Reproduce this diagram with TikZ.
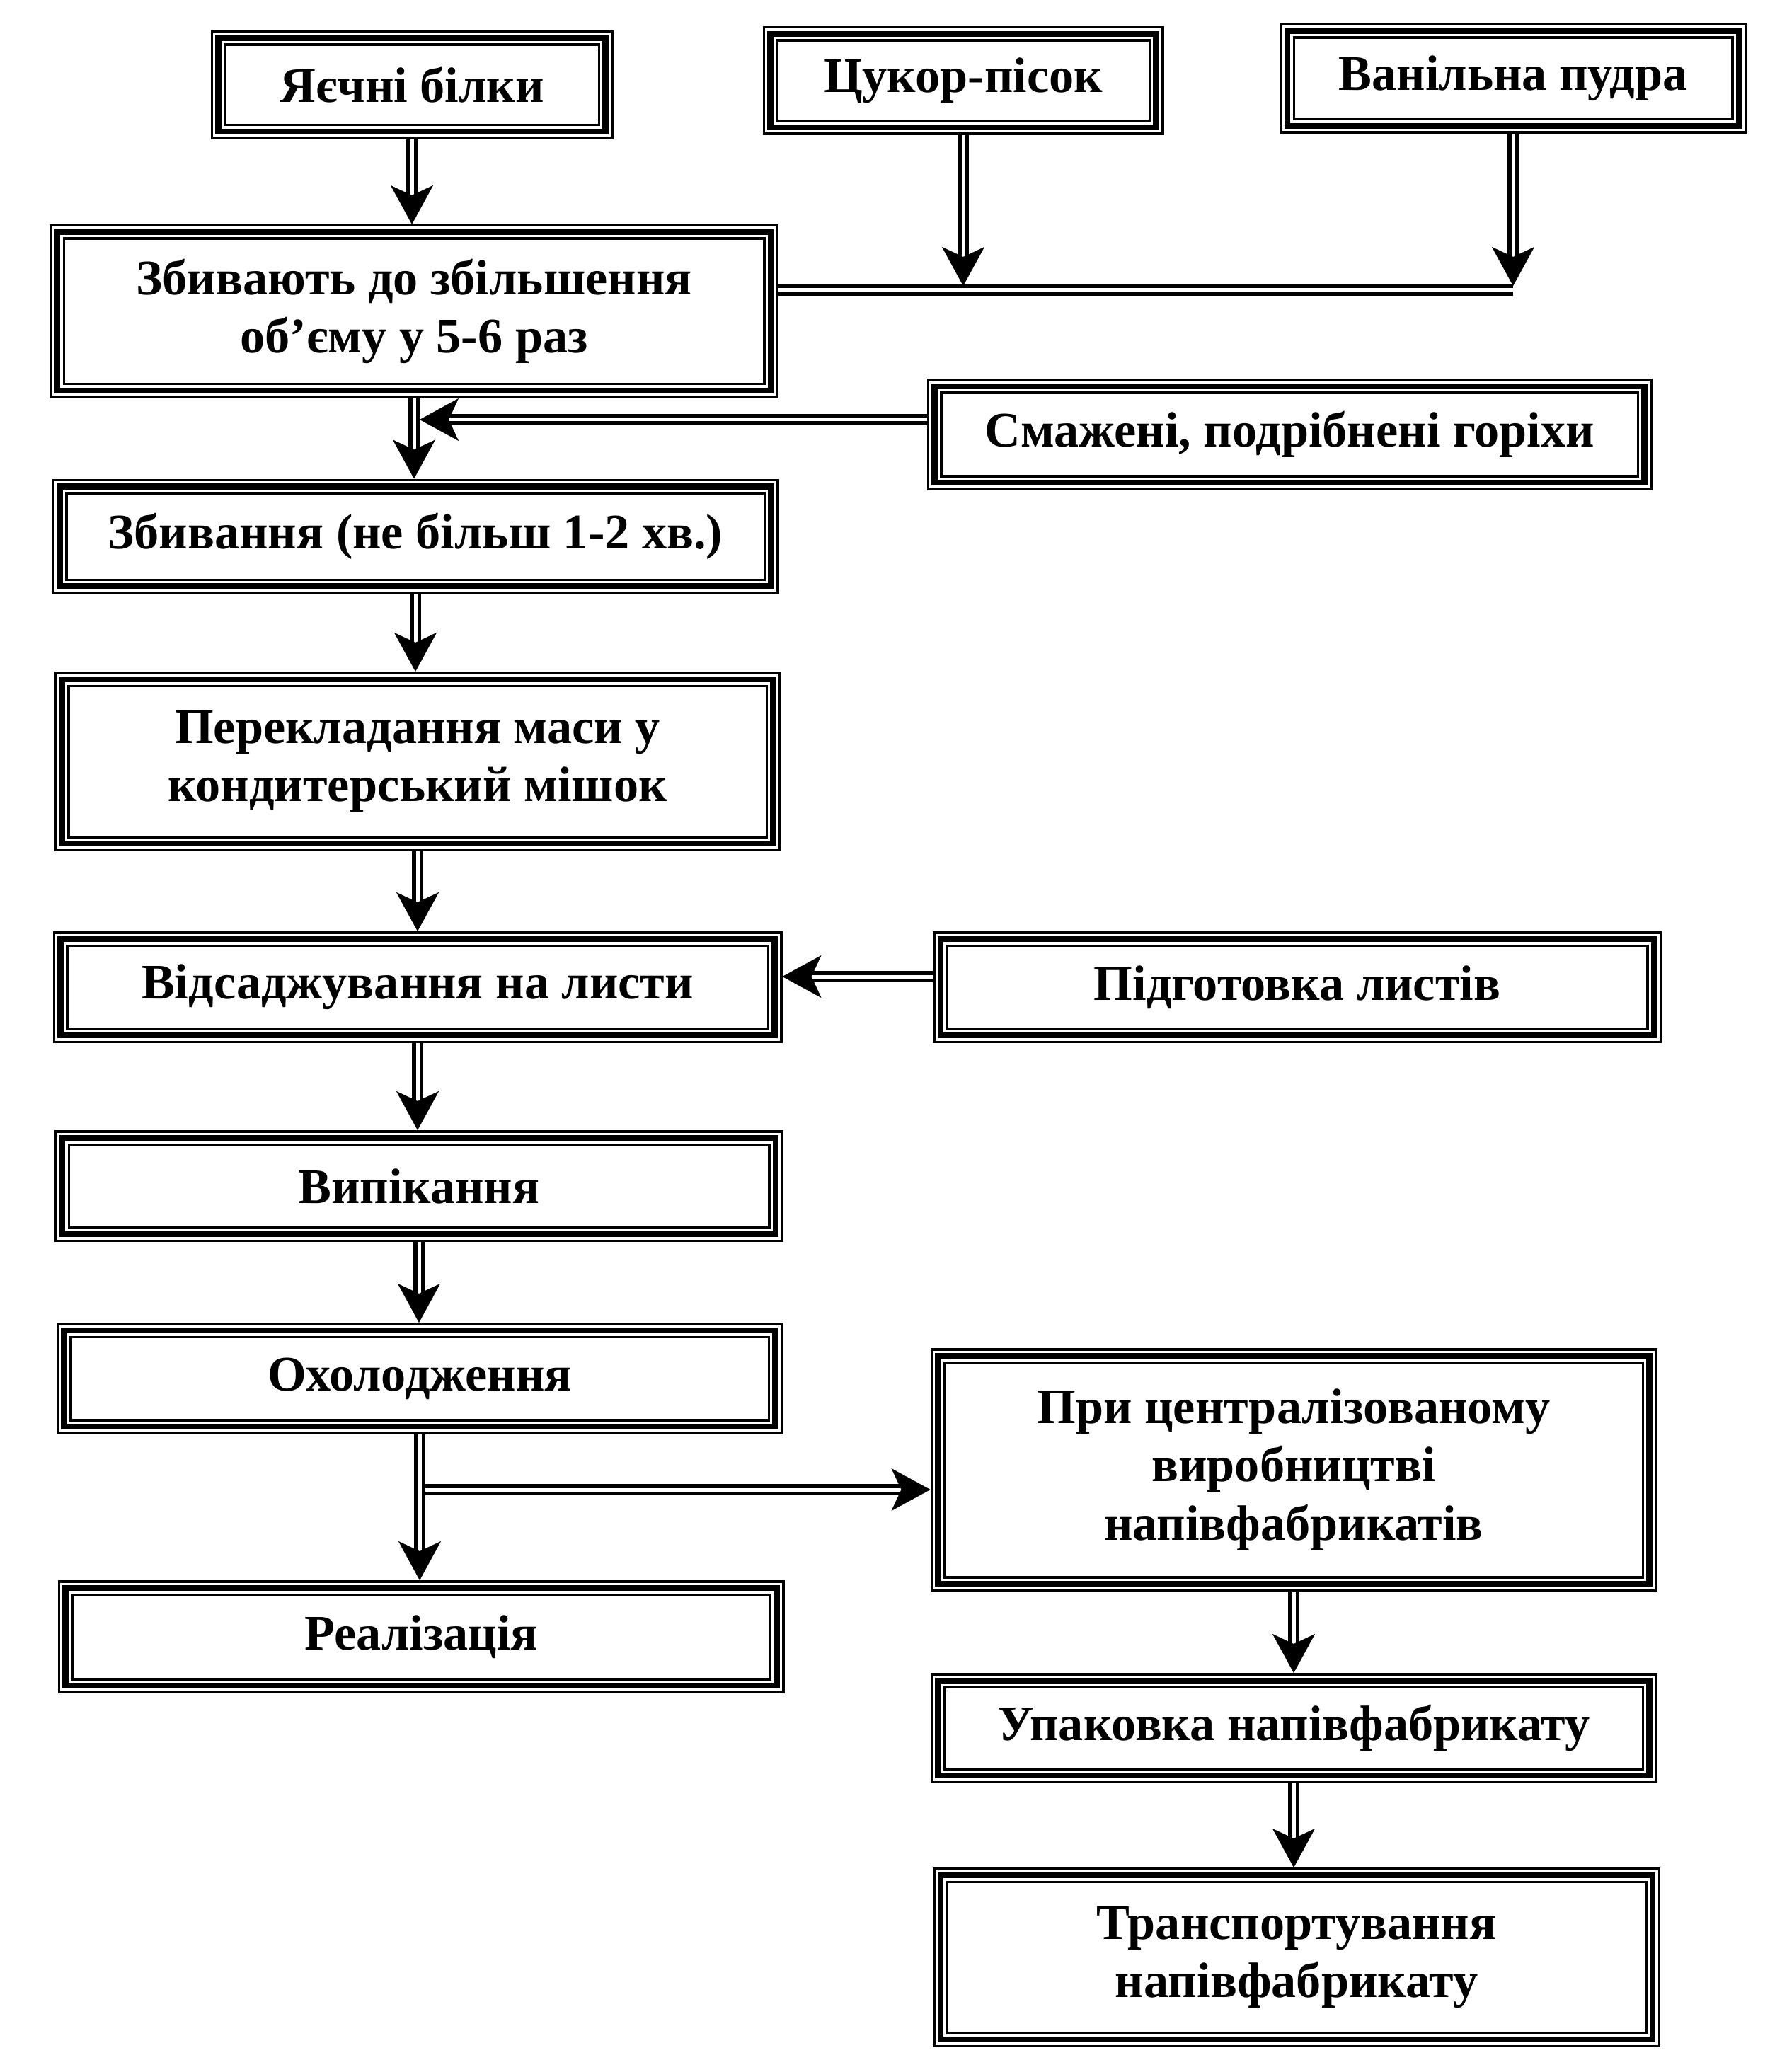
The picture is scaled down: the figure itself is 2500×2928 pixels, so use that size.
\documentclass[tikz,border=0pt]{standalone}
\usepackage{fontspec}
\setmainfont{Liberation Serif}
\usetikzlibrary{arrows.meta}
\tikzset{
  box/.style={align=center, font=\bfseries\fontsize{20}{23.5}\selectfont,
    inner sep=0pt, outer sep=0pt,
    preaction={draw=black, line width=2.2mm},
    draw=white, line width=1.5mm,
    postaction={draw=black, line width=0.85mm}},
  sz/.style 2 args={minimum width={(#1-22)*0.1mm}, minimum height={(#2-22)*0.1mm}},
  dl/.style={draw=black, double=white, line width=0.55mm, double distance=0.5mm},
  arr/.style={
    preaction={draw=black, double=white, line width=0.55mm, double distance=0.5mm,
      shorten <=1.1mm, shorten >={#1+2.5mm}},
    postaction={draw=white, line width=0.1pt, shorten <=1.1mm, shorten >=#1,
      -{Stealth[black, length=5.5mm, width=6mm, inset=1.4mm]}}},
  arr/.default=1.1mm
}
\begin{document}
\begin{tikzpicture}[x=0.1mm, y=-0.1mm]
\useasboundingbox (0,0) rectangle (2500,2928);

\node[box, sz={569}{154}]  (b1)  at (582,120)   {Яєчні білки};
\node[box, sz={567}{154}]  (b2)  at (1361,114)  {Цукор-пісок};
\node[box, sz={660}{156}]  (b3)  at (2138,111)  {Ванільна пудра};
\node[box, sz={1030}{246}] (b4)  at (585,440)   {Збивають до збільшення\\об’єму у 5-6 раз};
\node[box, sz={1025}{158}] (b5)  at (1822,614)  {Смажені, подрібнені горіхи};
\node[box, sz={1027}{163}] (b6)  at (587,758)   {Збивання (не більш 1-2 хв.)};
\node[box, sz={1027}{254}] (b7)  at (590,1076)  {Перекладання маси у\\кондитерський мішок};
\node[box, sz={1031}{158}] (b8)  at (590,1395)  {Відсаджування на листи};
\node[box, sz={1030}{158}] (b9)  at (1833,1395) {Підготовка листів};
\node[box, sz={1030}{158}] (b10) at (592,1676)  {Випікання};
\node[box, sz={1027}{158}] (b11) at (593,1948)  {Охолодження};
\node[box, sz={1027}{344}] (b12) at (1828,2077) {При централізованому\\виробництві\\напівфабрикатів};
\node[box, sz={1027}{160}] (b13) at (595,2313)  {Реалізація};
\node[box, sz={1027}{156}] (b14) at (1828,2442) {Упаковка напівфабрикату};
\node[box, sz={1028}{254}] (b15) at (1832,2766) {Транспортування\\напівфабрикату};

% junction coordinates
\coordinate (j2) at (b2.south |- 0,410);
\coordinate (j3) at (b3.south |- 0,410);
\coordinate (j0) at (b4.east |- 0,410);
\coordinate (k)  at (b4.south |- 0,593);
\coordinate (m8) at (b8.east |- 0,1380);
\coordinate (m9) at (b9.west |- 0,1380);
\coordinate (n)  at (b11.south |- 0,2105);
\coordinate (n0) at ([xshift=-0.3mm]n);

% horizontal collector line
\draw[dl, shorten <=1.1mm] (j0) -- (j3);
\path[arr=0.6mm] (b2.south) -- (j2);
\path[arr=0.6mm] (b3.south) -- (j3);

% main column
\path[arr] (b1.south) -- (b1.south |- b4.north);
\path[arr] (b4.south) -- (b4.south |- b6.north);
\path[arr=0.8mm] (b5.west |- k) -- (k);
\path[arr] (b6.south) -- (b6.south |- b7.north);
\path[arr] (b7.south) -- (b7.south |- b8.north);
\path[arr] (m9) -- (m8);
\path[arr] (b8.south) -- (b8.south |- b10.north);
\path[arr] (b10.south) -- (b10.south |- b11.north);
\path[arr] (b11.south) -- (b11.south |- b13.north);
\path[arr] (n0) -- (b12.west |- n);

% right column
\path[arr] (b12.south) -- (b12.south |- b14.north);
\path[arr] (b14.south) -- (b14.south |- b15.north);
\end{tikzpicture}
\end{document}
